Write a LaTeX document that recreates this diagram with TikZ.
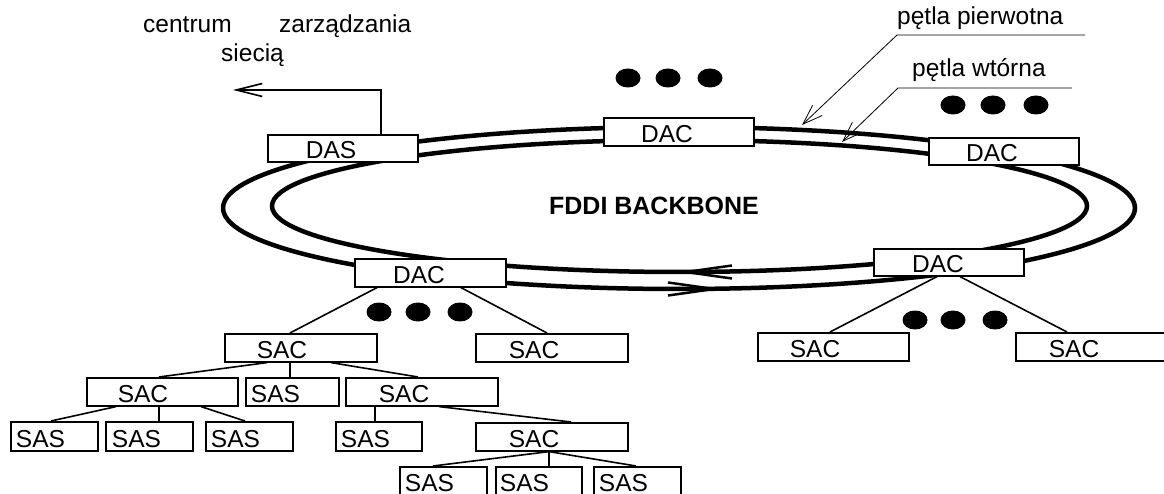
\documentclass[tikz,border=0pt]{standalone}
\usepackage{fontspec}
\setmainfont{Liberation Sans}
\usetikzlibrary{arrows.meta,calc}
\newcommand\netbox[8][2.5]{%
  \node[box, minimum width=#5pt, minimum height=#6pt] (#2) at (#3,#4) {};
  \node[txt] (#2-t) at (#8,#4+#6-#1) {#7};}
\begin{document}
\begin{tikzpicture}[x=1pt,y=-1pt,
  box/.style={draw, fill=white, line width=1.6pt, anchor=north west, inner sep=0pt},
  txt/.style={anchor=base, inner sep=0pt, font=\fontsize{24.5}{29}\selectfont},
  link/.style={line width=1.6pt},
  ring/.style={line width=4.5pt},
  note/.style={line width=0.8pt}
]
\fill[white] (0,0) rectangle (1164,494);
\useasboundingbox (0,0) rectangle (1164,494);

% FDDI rings
\draw[ring] (679,208) ellipse [x radius=456pt, y radius=81pt];
\draw[ring] (679.5,206) ellipse [x radius=407.5pt, y radius=66pt];
\draw[line width=2.5pt, -{Straight Barb[length=46pt, width=13pt]}] (700,272) -- (677,272);
\draw[line width=2.5pt, -{Straight Barb[length=46pt, width=13pt]}] (700,289) -- (723,289);

\node[txt, font=\bfseries\fontsize{25}{29}\selectfont, anchor=center] (fddi) at (654,206) {FDDI BACKBONE};

% ring stations
\netbox{das}{267}{134}{150}{27}{DAS}{331}
\netbox{dacT}{603}{117}{150}{28}{DAC}{667}
\netbox{dacR}{928}{137}{150}{27}{DAC}{992}
\netbox{dacL}{354}{258}{151}{28}{DAC}{419}
\netbox{dacLR}{873}{248}{150}{27}{DAC}{938}

% level 1
\netbox{sacA}{224}{333}{152}{28}{SAC}{282}
\netbox{sacB}{475}{333}{152}{28}{SAC}{534}
\netbox{sacC1}{757}{332}{151}{28}{SAC}{815}
\netbox{sacC2}{1015}{332}{150}{28}{SAC}{1074}
% level 2
\netbox{sacC}{86}{377}{151}{28}{SAC}{143}
\netbox{sasD}{245}{377}{93}{28}{SAS}{275.5}
\netbox{sacE}{345}{377}{152}{28}{SAC}{404}
% level 3
\netbox{sas1}{10}{421}{87}{29}{SAS}{40.5}
\netbox{sas2}{105}{421}{87}{29}{SAS}{136.5}
\netbox{sas3}{205}{421}{87}{29}{SAS}{235.5}
\netbox{sas4}{335}{421}{86}{29}{SAS}{365.5}
\netbox{sacF}{475}{422}{152}{28}{SAC}{534}
% level 4
\netbox[5]{sas5}{399}{466}{87}{30}{SAS}{429.5}
\netbox[5]{sas6}{495}{466}{86}{30}{SAS}{524.5}
\netbox[5]{sas7}{593}{466}{87}{30}{SAS}{623.5}

% tree links
\draw[link] ([xshift=23pt]dacL.south west) -- ([xshift=66pt]sacA.north west);
\draw[link] ([xshift=107pt]dacL.south west) -- ([xshift=72pt]sacB.north west);
\draw[link] ([xshift=64pt]dacLR.south west) -- ([xshift=73pt]sacC1.north west);
\draw[link] ([xshift=87pt]dacLR.south west) -- ([xshift=52pt]sacC2.north west);
\draw[link] ([xshift=43pt]sacA.south west) -- ([xshift=73pt]sacC.north west);
\draw[link] ([xshift=66pt]sacA.south west) -- ([xshift=45pt]sasD.north west);
\draw[link] ([xshift=107pt]sacA.south west) -- ([xshift=73pt]sacE.north west);
\draw[link] ([xshift=30pt]sacC.south west) -- ([xshift=41pt]sas1.north west);
\draw[link] ([xshift=73pt]sacC.south west) -- ([xshift=54pt]sas2.north west);
\draw[link] ([xshift=115pt]sacC.south west) -- ([xshift=40pt]sas3.north west);
\draw[link] ([xshift=30pt]sacE.south west) -- ([xshift=40pt]sas4.north west);
\draw[link] ([xshift=94pt]sacE.south west) -- ([xshift=96pt]sacF.north west);
\draw[link] ([xshift=74pt]sacF.south west) -- ([xshift=34pt]sas5.north west);
\draw[link] ([xshift=74pt]sacF.south west) -- ([xshift=54pt]sas6.north west);
\draw[link] ([xshift=74pt]sacF.south west) -- ([xshift=43pt]sas7.north west);

% dots
\foreach \x in {628,668,710} \fill (\x,78) ellipse [x radius=12.5pt, y radius=9.5pt];
\foreach \x in {953,993,1036} \fill (\x,105) ellipse [x radius=12.5pt, y radius=9.5pt];
\foreach \x in {379,418,460} \fill (\x,312) ellipse [x radius=12.5pt, y radius=9.5pt];
\foreach \x in {915,953,995} \fill (\x,320) ellipse [x radius=12.5pt, y radius=9.5pt];

% network management
\node[txt, anchor=base west] (centrum) at (143,33) {centrum};
\node[txt, anchor=base west] (zarz) at (279,33) {zarządzania};
\node[txt, anchor=base west] (siecia) at (221,62) {siecią};
\coordinate (nms) at (233,90);
\draw[link, -{Straight Barb[length=26pt, width=13pt]}] ([xshift=114pt]das.north west) |- (nms);

% loop annotations
\node[txt, anchor=base west] (pp) at (897,25) {pętla pierwotna};
\node[txt, anchor=base west] (pw) at (912,77) {pętla wtórna};
\coordinate (pp-end) at (1085,35);
\coordinate (pp-knee) at (897,35);
\coordinate (pp-tip) at (802,125);
\coordinate (pw-end) at (1072,88);
\coordinate (pw-knee) at (898,88);
\coordinate (pw-tip) at (842,142);
\draw[note, -{Straight Barb[length=20pt, width=14pt]}] (pp-end) -- (pp-knee) -- (pp-tip);
\draw[note, -{Straight Barb[length=20pt, width=14pt]}] (pw-end) -- (pw-knee) -- (pw-tip);
\end{tikzpicture}
\end{document}
